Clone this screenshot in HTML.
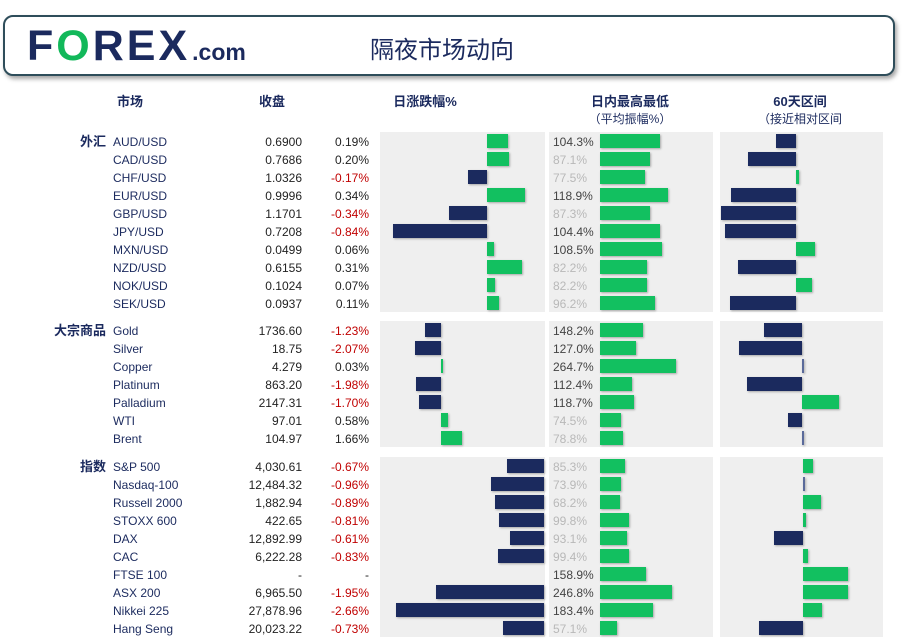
<!DOCTYPE html>
<html><head><meta charset="utf-8">
<style>
body{margin:0;width:903px;height:644px;background:#fff;position:relative;overflow:hidden;font-family:"Liberation Sans","Noto Sans CJK SC",sans-serif;}
.abs{position:absolute;}
.hdr{left:3px;top:15px;width:888px;height:57px;border:2px solid #2e4d5a;border-radius:10px;box-shadow:2px 3px 4px rgba(0,0,0,.35);background:#fff;}
.logo{left:27px;top:22px;font-size:43px;font-weight:bold;color:#1b2a5e;letter-spacing:3px;}
.logo .o{color:#12b85a;}
.logo .com{font-size:23px;letter-spacing:0;margin-left:2px;}
.title{left:370px;top:30px;font-size:24px;color:#1b2a5e;}
.ch{font-size:13px;font-weight:bold;color:#1b2a5e;text-align:center;}
.sub{font-size:12px;color:#1b2a5e;text-align:center;}
.panel{background:#efefef;}
.t{font-size:12px;line-height:18px;height:18px;white-space:nowrap;}
.nm{color:#1b2a5e;}
.num{color:#222;text-align:right;}
.neg{color:#c00000;}
.sec{font-size:13px;font-weight:bold;color:#1b2a5e;text-align:right;width:100px;}
.bar{position:absolute;height:14px;box-shadow:1px 1px 2px rgba(0,0,0,.3);}
</style></head><body>
<div class="abs hdr"></div>
<div class="abs logo">F<span class="o">O</span>REX<span class="com">.com</span></div>
<div class="abs title">隔夜市场动向</div>
<div class="abs ch" style="left:100px;top:91px;width:60px">市场</div>
<div class="abs ch" style="left:242px;top:91px;width:60px">收盘</div>
<div class="abs ch" style="left:370px;top:91px;width:110px">日涨跌幅%</div>
<div class="abs ch" style="left:560px;top:91px;width:140px">日内最高最低</div>
<div class="abs sub" style="left:560px;top:110px;width:140px">（平均振幅%）</div>
<div class="abs ch" style="left:740px;top:91px;width:120px">60天区间</div>
<div class="abs sub" style="left:735px;top:110px;width:130px">（接近相对区间</div>
<div id="root"></div>
<script>
const sections=['外汇','大宗商品','指数'];
const names=[['AUD/USD','CAD/USD','CHF/USD','EUR/USD','GBP/USD','JPY/USD','MXN/USD','NZD/USD','NOK/USD','SEK/USD'],
['Gold','Silver','Copper','Platinum','Palladium','WTI','Brent'],
['S&P 500','Nasdaq-100','Russell 2000','STOXX 600','DAX','CAC','FTSE 100','ASX 200','Nikkei 225','Hang Seng']];
const closes=[['0.6900','0.7686','1.0326','0.9996','1.1701','0.7208','0.0499','0.6155','0.1024','0.0937'],
['1736.60','18.75','4.279','863.20','2147.31','97.01','104.97'],
['4,030.61','12,484.32','1,882.94','422.65','12,892.99','6,222.28','-','6,965.50','27,878.96','20,023.22']];
const changes=[[0.19,0.20,-0.17,0.34,-0.34,-0.84,0.06,0.31,0.07,0.11],
[-1.23,-2.07,0.03,-1.98,-1.70,0.58,1.66],
[-0.67,-0.96,-0.89,-0.81,-0.61,-0.83,null,-1.95,-2.66,-0.73]];
const ranges=[[104.3,87.1,77.5,118.9,87.3,104.4,108.5,82.2,82.2,96.2],
[148.2,127.0,264.7,112.4,118.7,74.5,78.8],
[85.3,73.9,68.2,99.8,93.1,99.4,158.9,246.8,183.4,57.1]];
const pos60=[[-0.26,-0.63,0.04,-0.86,-0.99,-0.93,0.25,-0.76,0.21,-0.87],
[-0.50,-0.83,0.01,-0.72,0.49,-0.18,0.01],
[0.13,0.01,0.24,0.04,-0.38,0.07,0.59,0.59,0.25,-0.58]];
// layout config
const secTop=[132,321,457], rowH=18;
const chgZero=[487,441,544], chgScale=[112,12.8,55.5];
const rngScale=[0.575,0.287,0.29];
const p60Zero=[796,802,803], p60Scale=76;
const NAVY='#1b2a5e',GREEN='#12c060';
const root=document.getElementById('root');
function mk(cls,style,txt){const d=document.createElement('div');d.className='abs '+cls;d.style.cssText=style;if(txt!=null)d.textContent=txt;root.appendChild(d);return d;}
sections.forEach((s,si)=>{
  const n=names[si].length, top=secTop[si], h=n*rowH;
  let p=mk('panel',`left:380px;top:${top}px;width:165px;height:${h}px`);
  
  p=mk('panel',`left:549px;top:${top}px;width:164px;height:${h}px`);
  
  p=mk('panel',`left:720px;top:${top}px;width:163px;height:${h}px`);
  
  let sl=mk('sec t',`left:6px;top:${top+1}px`,s);
  
  names[si].forEach((nm,i)=>{
    const y=top+i*rowH+1, by=top+i*rowH+2;
    let e=mk('t nm',`left:113px;top:${y}px`,nm);
    
    e=mk('t num',`left:222px;top:${y}px;width:80px`,closes[si][i]);
    
    const c=changes[si][i];
    e=mk('t num'+(c!=null&&c<0?' neg':''),`left:310px;top:${y}px;width:59px`,c==null?'-':c.toFixed(2)+'%');
    
    if(c!=null){const w=Math.abs(c)*chgScale[si];const z=chgZero[si];
      e=mk('bar',`left:${c<0?z-w:z}px;top:${by}px;width:${Math.max(w,1.5)}px;background:${c<0?NAVY:GREEN}`);
      }
    const r=ranges[si][i];
    e=mk('t',`left:553px;top:${y}px;color:${r>=100?'#444':'#b8b8b8'}`,r.toFixed(1)+'%');
    
    e=mk('bar',`left:600px;top:${by}px;width:${r*rngScale[si]}px;background:${GREEN}`);
    
    const q=pos60[si][i];const w6=Math.abs(q)*p60Scale;const z6=p60Zero[si];
    let col=q<0?NAVY:GREEN; if(w6<2) col='#5a6a9a';
    e=mk('bar',`left:${q<0?z6-w6:z6}px;top:${by}px;width:${Math.max(w6,2)}px;background:${col}`);
    
  });
});
</script>
</body></html>
